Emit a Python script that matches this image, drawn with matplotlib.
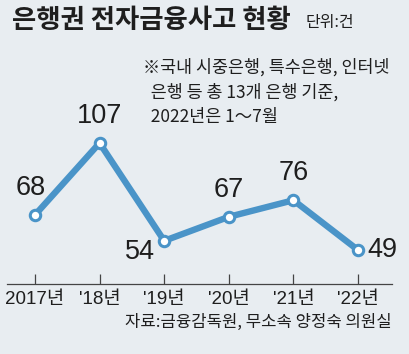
#!/usr/bin/env python3
"""Electronic-finance incidents at banks, 2017-2022 (line chart)."""

import matplotlib
matplotlib.use("Agg")
import matplotlib.pyplot as plt

# data
years = ["2017년", "'18년", "'19년", "'20년", "'21년", "'22년"]
incidents = [68, 107, 54, 67, 76, 49]

BG = "#e8edf1"
BLUE = "#4a94c8"
TEXT = "#1e1e1e"
KR = "Noto Sans CJK KR"
NUM = ["Liberation Sans", KR]

W, H = 409, 354
fig = plt.figure(figsize=(W / 100, H / 100), dpi=100, facecolor=BG)

# axes: baseline at y=284px, spans x 7..392px
ax = fig.add_axes([7 / W, (H - 284) / H, 385 / W, 284 / H])
ax.set_facecolor(BG)
x = list(range(len(years)))
ax.set_xlim(-0.433, 5.526)
ax.set_ylim(30.6, 184.5)

ax.plot(x, incidents, color=BLUE, lw=4.6, solid_joinstyle="miter", zorder=2)
ax.plot(x, incidents, "o", ms=7.5, mfc="white", mec=BLUE, mew=2.2, zorder=3)

# value labels: (dx, dy in points, ha, va)
offsets = [(-3, 10, "center", "bottom"), (0, 10, "center", "bottom"),
           (-7, -8, "right", "center"), (0, 10, "center", "bottom"),
           (0, 10, "center", "bottom"), (7, 0, "left", "center")]
for xi, v, (dx, dy, ha, va) in zip(x, incidents, offsets):
    ax.annotate(str(v), (xi, v), xytext=(dx, dy), textcoords="offset points",
                ha=ha, va=va, fontsize=19.5, family=NUM, color=TEXT)

for s in ["top", "right", "left"]:
    ax.spines[s].set_visible(False)
ax.spines["bottom"].set_color("#444444")
ax.spines["bottom"].set_linewidth(0.9)
ax.set_yticks([])
ax.set_xticks(x)
ax.set_xticklabels(years, family=NUM, fontsize=13.5, color=TEXT)
ax.tick_params(axis="x", direction="in", length=7, width=0.9, color="#444444", pad=5)

# title and notes
fig.text(12 / W, 1 - 20 / H, "은행권 전자금융사고 현황", family=KR, fontweight="bold",
         fontsize=19, color=TEXT, va="center", ha="left")
fig.text(306 / W, 1 - 22 / H, "단위:건", family=KR, fontsize=11.5, color=TEXT,
         va="center", ha="left")
note = ["※국내 시중은행, 특수은행, 인터넷", "  은행 등 총 13개 은행 기준,", "  2022년은 1～7월"]
for i, line in enumerate(note):
    fig.text(143 / W, 1 - (67 + 25 * i) / H, line, family=KR, fontsize=12.5,
             color=TEXT, va="center", ha="left")
fig.text(392 / W, 1 - 322 / H, "자료:금융감독원, 무소속 양정숙 의원실", family=KR,
         fontsize=12, color=TEXT, va="center", ha="right")

fig.savefig("out.png", dpi=100, facecolor=BG)
